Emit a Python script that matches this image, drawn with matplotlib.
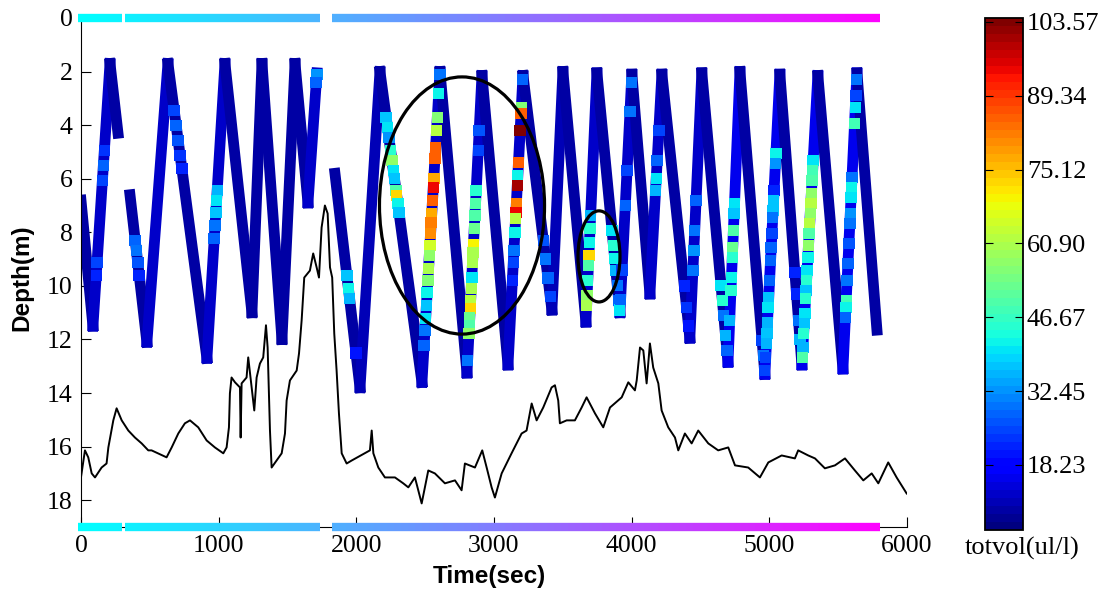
import numpy as np
import matplotlib
matplotlib.use("Agg")
import matplotlib.pyplot as plt
from matplotlib.collections import LineCollection
from matplotlib.colors import Normalize
from matplotlib.patches import Ellipse

# yo-yo profile turning points (time s, depth m) for the three casts
seg_a_t = [0, 87, 211, 269]
seg_a_d = [6.8, 11.5, 1.7, 4.3]
seg_a_v = [10, 13, 10]

seg_b_t = [356, 479, 632, 915, 1046, 1242, 1315, 1460, 1555, 1649, 1714]
seg_b_d = [6.6, 12.1, 1.7, 12.7, 1.7, 11.0, 1.7, 12.0, 1.7, 6.9, 2.05]
seg_b_v = [10, 12, 10, 12, 10, 10, 10, 10, 10, 12]

seg_c_t = [1845, 2027, 2172, 2477, 2608, 2804, 2913, 3102, 3211, 3421, 3501, 3668, 3748, 3915,
           4002, 4133, 4220, 4423, 4510, 4700, 4787, 4968, 5077, 5237, 5353, 5535, 5637, 5782]
seg_c_d = [5.8, 13.8, 2.0, 13.6, 2.0, 13.25, 2.15, 12.95, 2.15, 10.9, 2.0, 11.35, 2.05, 11.0,
           2.1, 10.3, 2.1, 11.95, 2.05, 12.85, 2.0, 13.3, 2.1, 12.95, 2.15, 13.1, 2.05, 11.65]
seg_c_v = [10, 11, 10, 12, 10, 12, 10, 12, 10, 11, 10, 12, 10, 12, 10, 12, 10, 13, 10, 15,
           10, 15, 10, 15, 10, 15, 10]

# samples with higher totvol along the profile
hl_t = [170, 163, 156, 117, 111,
        394, 403, 413, 423,
        677, 691, 706, 720, 733,
        990, 985, 980, 974, 968,
        1713, 1709,
        1932, 1943, 1951, 1997,
        2217, 2227, 2237, 2250, 2259, 2269, 2277, 2289, 2294, 2302, 2310,
        2607, 2599, 2589, 2583, 2576, 2571, 2563, 2559, 2554, 2548, 2544, 2540, 2535, 2530,
        2525, 2520, 2515, 2509, 2504, 2499, 2493,
        2871, 2866, 2862, 2857, 2851, 2848, 2844, 2839, 2836, 2831, 2828, 2824, 2821, 2818,
        2809, 2893, 2886,
        3209, 3199, 3197, 3190, 3178, 3173, 3170, 3163, 3159, 3157, 3152, 3145, 3141, 3134,
        3359, 3375, 3392, 3409,
        3702, 3698, 3694, 3689, 3686, 3681, 3677, 3673,
        3858, 3868, 3877, 3886, 3896, 3906, 3913,
        3920, 3931, 3954, 3967, 3988, 3999,
        4179, 4174, 4186, 4198,
        4383, 4399, 4414,
        4445, 4452, 4458, 4468,
        4649, 4659, 4669, 4682, 4692,
        4747, 4745, 4739, 4734, 4731, 4725, 4721, 4713,
        4948, 4957, 4966,
        5048, 5045, 5035, 5031, 5027, 5025, 5019, 5014, 5009, 5002, 4996, 4992, 4987, 4983,
        4979, 4974,
        5186, 5198, 5213, 5223,
        5319, 5315, 5311, 5306, 5302, 5298, 5294, 5290, 5285, 5280, 5275, 5271, 5267, 5264,
        5258, 5254, 5250, 5244, 5240,
        5635, 5629, 5625, 5620, 5601, 5597, 5594, 5589, 5586, 5578, 5571, 5565, 5559, 5556, 5553]
hl_d = [4.95, 5.51, 6.07, 9.13, 9.61,
        8.31, 8.68, 9.13, 9.61,
        3.46, 4.01, 4.57, 5.13, 5.62,
        6.44, 6.81, 7.26, 7.75, 8.23,
        2.1, 2.4,
        9.61, 10.09, 10.47, 12.5,
        3.72, 4.09, 4.46, 4.95, 5.32, 5.69, 5.99, 6.44, 6.63, 6.93, 7.26,
        2.1, 2.82, 3.72, 4.2, 4.84, 5.25, 5.99, 6.33, 6.81, 7.3, 7.63, 8.04, 8.49, 8.87,
        9.35, 9.8, 10.25, 10.73, 11.22, 11.66, 12.22,
        6.44, 6.93, 7.37, 7.86, 8.45, 8.75, 9.13, 9.69, 10.09, 10.54, 10.84, 11.18, 11.48, 11.78,
        12.79, 4.2, 4.95,
        2.3, 3.34, 3.57, 4.2, 5.4, 5.9, 6.25, 6.93, 7.26, 7.49, 8.01, 8.68, 9.13, 9.8,
        8.3, 9.0, 9.7, 10.4,
        7.37, 7.86, 8.38, 8.87, 9.24, 9.8, 10.36, 10.73,
        7.93, 8.49, 8.98, 9.42, 9.98, 10.54, 10.9,
        10.5, 9.4, 7.0, 5.7, 3.5, 2.4,
        5.99, 6.44, 5.32, 4.2,
        10.0, 10.8, 11.5,
        9.42, 8.68, 7.93, 6.81,
        9.98, 10.54, 11.1, 11.85, 12.41,
        6.93, 7.3, 7.93, 8.57, 8.94, 9.69, 10.17, 11.29,
        12.04, 12.6, 13.16,
        5.06, 5.43, 6.44, 6.81, 7.19, 7.45, 8.04, 8.57, 9.05, 9.8, 10.43, 10.8, 11.37, 11.78,
        12.15, 12.67,
        9.5, 10.3, 11.3, 12.0,
        5.32, 5.69, 6.07, 6.55, 6.93, 7.3, 7.67, 8.04, 8.49, 8.94, 9.42, 9.8, 10.17, 10.47,
        11.03, 11.4, 11.78, 12.3, 12.67,
        2.3, 2.9, 3.34, 3.94, 5.96, 6.33, 6.7, 7.3, 7.67, 8.42, 9.16, 9.8, 10.54, 10.8, 11.18]
hl_v = [24, 28, 25, 25, 22,
        28, 30, 26, 22,
        25, 28, 26, 24, 22,
        36, 40, 38, 30, 28,
        32, 28,
        38, 42, 35, 20,
        38, 40, 32, 45, 58, 40, 38, 50, 72, 42, 38,
        30, 42, 55, 62, 85, 85, 78, 95, 85, 78, 82, 80, 65, 58,
        60, 55, 42, 38, 40, 30, 28,
        45, 50, 50, 52, 70, 60, 60, 40, 60, 62, 72, 52, 50, 58,
        30, 27, 25,
        28, 55, 85, 104, 85, 42, 100, 82, 95, 62, 42, 30, 25, 22,
        26, 30, 28, 25,
        35, 45, 42, 72, 50, 45, 58, 60,
        40, 45, 42, 35, 30, 28, 40,
        28, 25, 28, 25, 30, 30,
        40, 35, 28, 25,
        22, 24, 20,
        30, 32, 30, 28,
        40, 45, 30, 35, 28,
        40, 38, 50, 52, 45, 42, 45, 35,
        25, 30, 25,
        42, 32, 22, 38, 38, 30, 25, 28, 28, 28, 38, 40, 35, 38,
        35, 25,
        22, 22, 30, 35,
        40, 48, 50, 58, 62, 58, 62, 50, 58, 42, 40, 45, 38, 45,
        40, 38, 45, 35, 50,
        30, 25, 40, 48, 30, 42, 40, 32, 30, 26, 28, 30, 48, 42, 28]

# black trace
bl_t = [0, 29, 53, 78, 102, 150, 186, 199, 235, 259, 296, 344, 392, 441, 489, 513, 622, 659,
        707, 755, 792, 852, 913, 973, 1034, 1058, 1075, 1082, 1094, 1119, 1155, 1160, 1167,
        1203, 1215, 1240, 1259, 1276, 1300, 1324, 1344, 1356, 1373, 1385, 1421, 1458, 1482,
        1494, 1518, 1567, 1584, 1603, 1622, 1663, 1687, 1712, 1729, 1748, 1772, 1792, 1809,
        1825, 1840, 1857, 1874, 1894, 1930, 1966, 2099, 2112, 2124, 2160, 2208, 2281, 2341,
        2378, 2426, 2475, 2523, 2571, 2644, 2717, 2765, 2789, 2862, 2915, 2947, 2983, 3007,
        3056, 3128, 3201, 3237, 3274, 3310, 3358, 3419, 3443, 3467, 3479, 3528, 3588, 3637,
        3673, 3734, 3794, 3843, 3928, 3976, 4024, 4037, 4061, 4085, 4109, 4133, 4157, 4194,
        4218, 4266, 4315, 4339, 4387, 4436, 4484, 4557, 4629, 4702, 4751, 4847, 4932, 4993,
        5090, 5186, 5210, 5283, 5332, 5404, 5477, 5550, 5622, 5683, 5744, 5792, 5864, 5925, 5998]
bl_d = [17.15, 16.14, 16.4, 17.0, 17.15, 16.78, 16.63, 16.03, 15.02, 14.57, 15.02, 15.4,
        15.66, 15.88, 16.14, 16.14, 16.4, 16.03, 15.51, 15.13, 15.02, 15.28, 15.77, 16.03,
        16.25, 16.03, 15.28, 14.01, 13.42, 13.6, 13.79, 15.66, 13.64, 13.42, 12.67, 13.79,
        14.65, 13.42, 12.9, 12.67, 11.47, 12.3, 15.4, 16.78, 16.52, 16.25, 15.51, 14.28,
        13.53, 13.16, 12.52, 11.29, 9.69, 9.43, 8.79, 9.31, 9.69, 7.82, 7.0, 7.3, 9.31, 9.69,
        11.78, 13.16, 14.76, 16.25, 16.63, 16.52, 16.14, 15.4, 16.25, 16.78, 17.15, 17.15,
        17.37, 17.52, 17.15, 18.12, 16.89, 17.0, 17.37, 17.26, 17.63, 16.63, 16.78, 16.14,
        16.78, 17.52, 17.9, 17.0, 16.25, 15.51, 15.4, 14.39, 15.02, 14.54, 13.79, 13.71,
        14.28, 15.13, 15.02, 15.02, 14.54, 14.16, 14.76, 15.28, 14.54, 14.16, 13.6, 13.9,
        13.53, 12.3, 12.41, 13.64, 12.15, 13.05, 13.64, 14.65, 15.28, 15.66, 16.14, 15.51,
        15.88, 15.4, 15.88, 16.14, 16.03, 16.7, 16.78, 17.15, 16.59, 16.33, 16.44, 16.14,
        16.33, 16.44, 16.81, 16.7, 16.44, 16.89, 17.26, 17.0, 17.37, 16.59, 17.15, 17.75]

# time coverage bars (start, end) in seconds
bar_start = [-25, 320, 1823]
bar_end = [298, 1736, 5804]

cb_ticks = [18.23, 32.45, 46.67, 60.90, 75.12, 89.34, 103.57]
VMIN, VMAX = 5.7, 104.3

plt.rcParams["font.family"] = ["Liberation Serif", "DejaVu Serif"]

fig = plt.figure(figsize=(11.09, 5.91), dpi=100)
ax = fig.add_axes([0.073, 0.1083, 0.7448, 0.8613])
cax = fig.add_axes([0.888, 0.1032, 0.0343, 0.8663])

cmap = plt.get_cmap("jet", 64)
norm = Normalize(VMIN, VMAX)

for st, sd, sv in [(seg_a_t, seg_a_d, seg_a_v), (seg_b_t, seg_b_d, seg_b_v),
                   (seg_c_t, seg_c_d, seg_c_v)]:
    pts = np.column_stack([st, sd])
    legs = np.stack([pts[:-1], pts[1:]], axis=1)
    lc = LineCollection(legs, cmap=cmap, norm=norm, linewidths=7.8, capstyle="projecting", zorder=2)
    lc.set_array(np.asarray(sv, dtype=float))
    ax.add_collection(lc)

ax.scatter(hl_t, hl_d, c=hl_v, cmap=cmap, norm=norm, marker="s", s=68, linewidths=0, zorder=3)
ax.plot(bl_t, bl_d, color="k", lw=1.4, zorder=4)

# time coloured bars along top and bottom
tnorm = Normalize(0, 5800)
for s, e in zip(bar_start, bar_end):
    ts = np.linspace(s, e, 80)
    for yb in (0, 19):
        pts = np.column_stack([ts, np.full_like(ts, yb)])
        segs = np.stack([pts[:-1], pts[1:]], axis=1)
        bc = LineCollection(segs, cmap="cool", norm=tnorm, linewidths=6, clip_on=False, zorder=5)
        bc.set_array(ts[:-1])
        ax.add_collection(bc)

# highlighted regions
ax.add_patch(Ellipse((2768, 7.0), 1199, 9.6, fill=False, lw=2.3, ec="k", zorder=6))
ax.add_patch(Ellipse((3763, 8.9), 305, 3.4, fill=False, lw=2.3, ec="k", zorder=6))

ax.set_xlim(0, 6000)
ax.set_ylim(19, 0)
ax.set_xticks(range(0, 6001, 1000))
ax.set_yticks(range(0, 19, 2))
ax.spines[["top", "right"]].set_visible(False)
ax.tick_params(direction="in", length=7, labelsize=18.5, pad=6)
ax.set_xlabel("Time(sec)", family=["Liberation Sans", "DejaVu Sans"], fontweight="bold", fontsize=17.5)
ax.set_ylabel("Depth(m)", family=["Liberation Sans", "DejaVu Sans"], fontweight="bold", fontsize=17.5)
ax.xaxis.set_label_coords(0.495, -0.075)
ax.yaxis.set_label_coords(-0.058, 0.49)

sm = plt.cm.ScalarMappable(norm=norm, cmap=cmap)
cb = fig.colorbar(sm, cax=cax)
cb.set_ticks(cb_ticks)
cb.set_ticklabels(["%.2f" % v for v in cb_ticks])
cb.outline.set_linewidth(1.3)
cax.tick_params(direction="in", left=True, right=True, length=6, labelsize=19, pad=3)
fig.text(1022 / 1109, 1 - 548 / 591, "totvol(ul/l)", ha="center", va="center", fontsize=19)

fig.savefig("out.png", dpi=100)
